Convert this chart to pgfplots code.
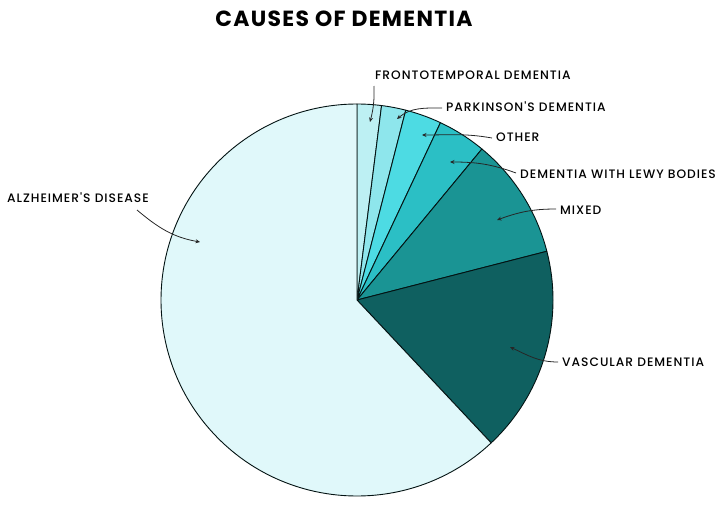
\documentclass[border=0pt]{standalone}
\usepackage{pgfplots}
\pgfplotsset{compat=1.18}
\usepackage{fontspec}
\setmainfont{Poppins}
\newfontfamily\labfont{Poppins Medium}
\usetikzlibrary{arrows.meta}
\definecolor{cFT}{HTML}{BDF0F3}
\definecolor{cPD}{HTML}{8EE6EC}
\definecolor{cOT}{HTML}{4DDBE3}
\definecolor{cDL}{HTML}{2BBFC5}
\definecolor{cMX}{HTML}{1A9494}
\definecolor{cVD}{HTML}{0F6060}
\definecolor{cAD}{HTML}{E0F8FA}
\begin{document}
\begin{tikzpicture}
\begin{axis}[
  width=717bp, height=503bp, scale only axis,
  xmin=0, xmax=717, ymin=0, ymax=503, y dir=reverse,
  hide axis, clip=false,
]
\path (axis cs:0,0) (axis cs:717,503);
% shares in percent, clockwise from 12 o'clock
\def\startang{90}
\foreach \v/\c in {2/cFT, 2/cPD, 3/cOT, 4/cDL, 10/cMX, 17/cVD, 62/cAD} {
  \pgfmathsetmacro\endang{\startang - \v*3.6}
  \edef\temp{\noexpand\filldraw[fill=\c, draw=black!80!cVD, line width=0.9pt, line join=round]
    (axis cs:357,300) -- ++(\startang:196bp) arc[start angle=\startang, end angle=\endang, radius=196bp] -- cycle;}
  \temp
  \xdef\startang{\endang}
}
\tikzset{lab/.style={anchor=west, font=\labfont\fontsize{12.3}{13}\selectfont\addfontfeatures{LetterSpace=8}, inner sep=0pt},
  arr/.style={draw=black!85, line width=0.8pt, -{Stealth[length=4.5pt,width=4pt]}}}
\node[font=\fontsize{22}{24}\selectfont\bfseries\addfontfeatures{LetterSpace=6}] at (axis cs:344,19) {CAUSES OF DEMENTIA};
\node[lab] at (axis cs:375,75) {FRONTOTEMPORAL DEMENTIA};
\node[lab] at (axis cs:446,107) {PARKINSON'S DEMENTIA};
\node[lab] at (axis cs:496,137) {OTHER};
\node[lab] at (axis cs:520,174) {DEMENTIA WITH LEWY BODIES};
\node[lab] at (axis cs:560,210) {MIXED};
\node[lab] at (axis cs:562,362) {VASCULAR DEMENTIA};
\node[lab] at (axis cs:7,198) {ALZHEIMER'S DISEASE};
\draw[arr] (axis cs:374,86) to[bend left=8] (axis cs:370,122);
\draw[arr] (axis cs:442,108) to[out=180,in=40] (axis cs:397,119);
\draw[arr] (axis cs:492,138) to[out=170,in=0] (axis cs:422,135);
\draw[arr] (axis cs:516,173) to[out=160,in=0] (axis cs:450,162);
\draw[arr] (axis cs:556,209) to[out=180,in=20] (axis cs:497,220);
\draw[arr] (axis cs:558,362) to[out=180,in=-25] (axis cs:510,347);
\draw[arr] (axis cs:137,210) to[out=-40,in=170] (axis cs:200,242);
\end{axis}
\end{tikzpicture}
\end{document}
